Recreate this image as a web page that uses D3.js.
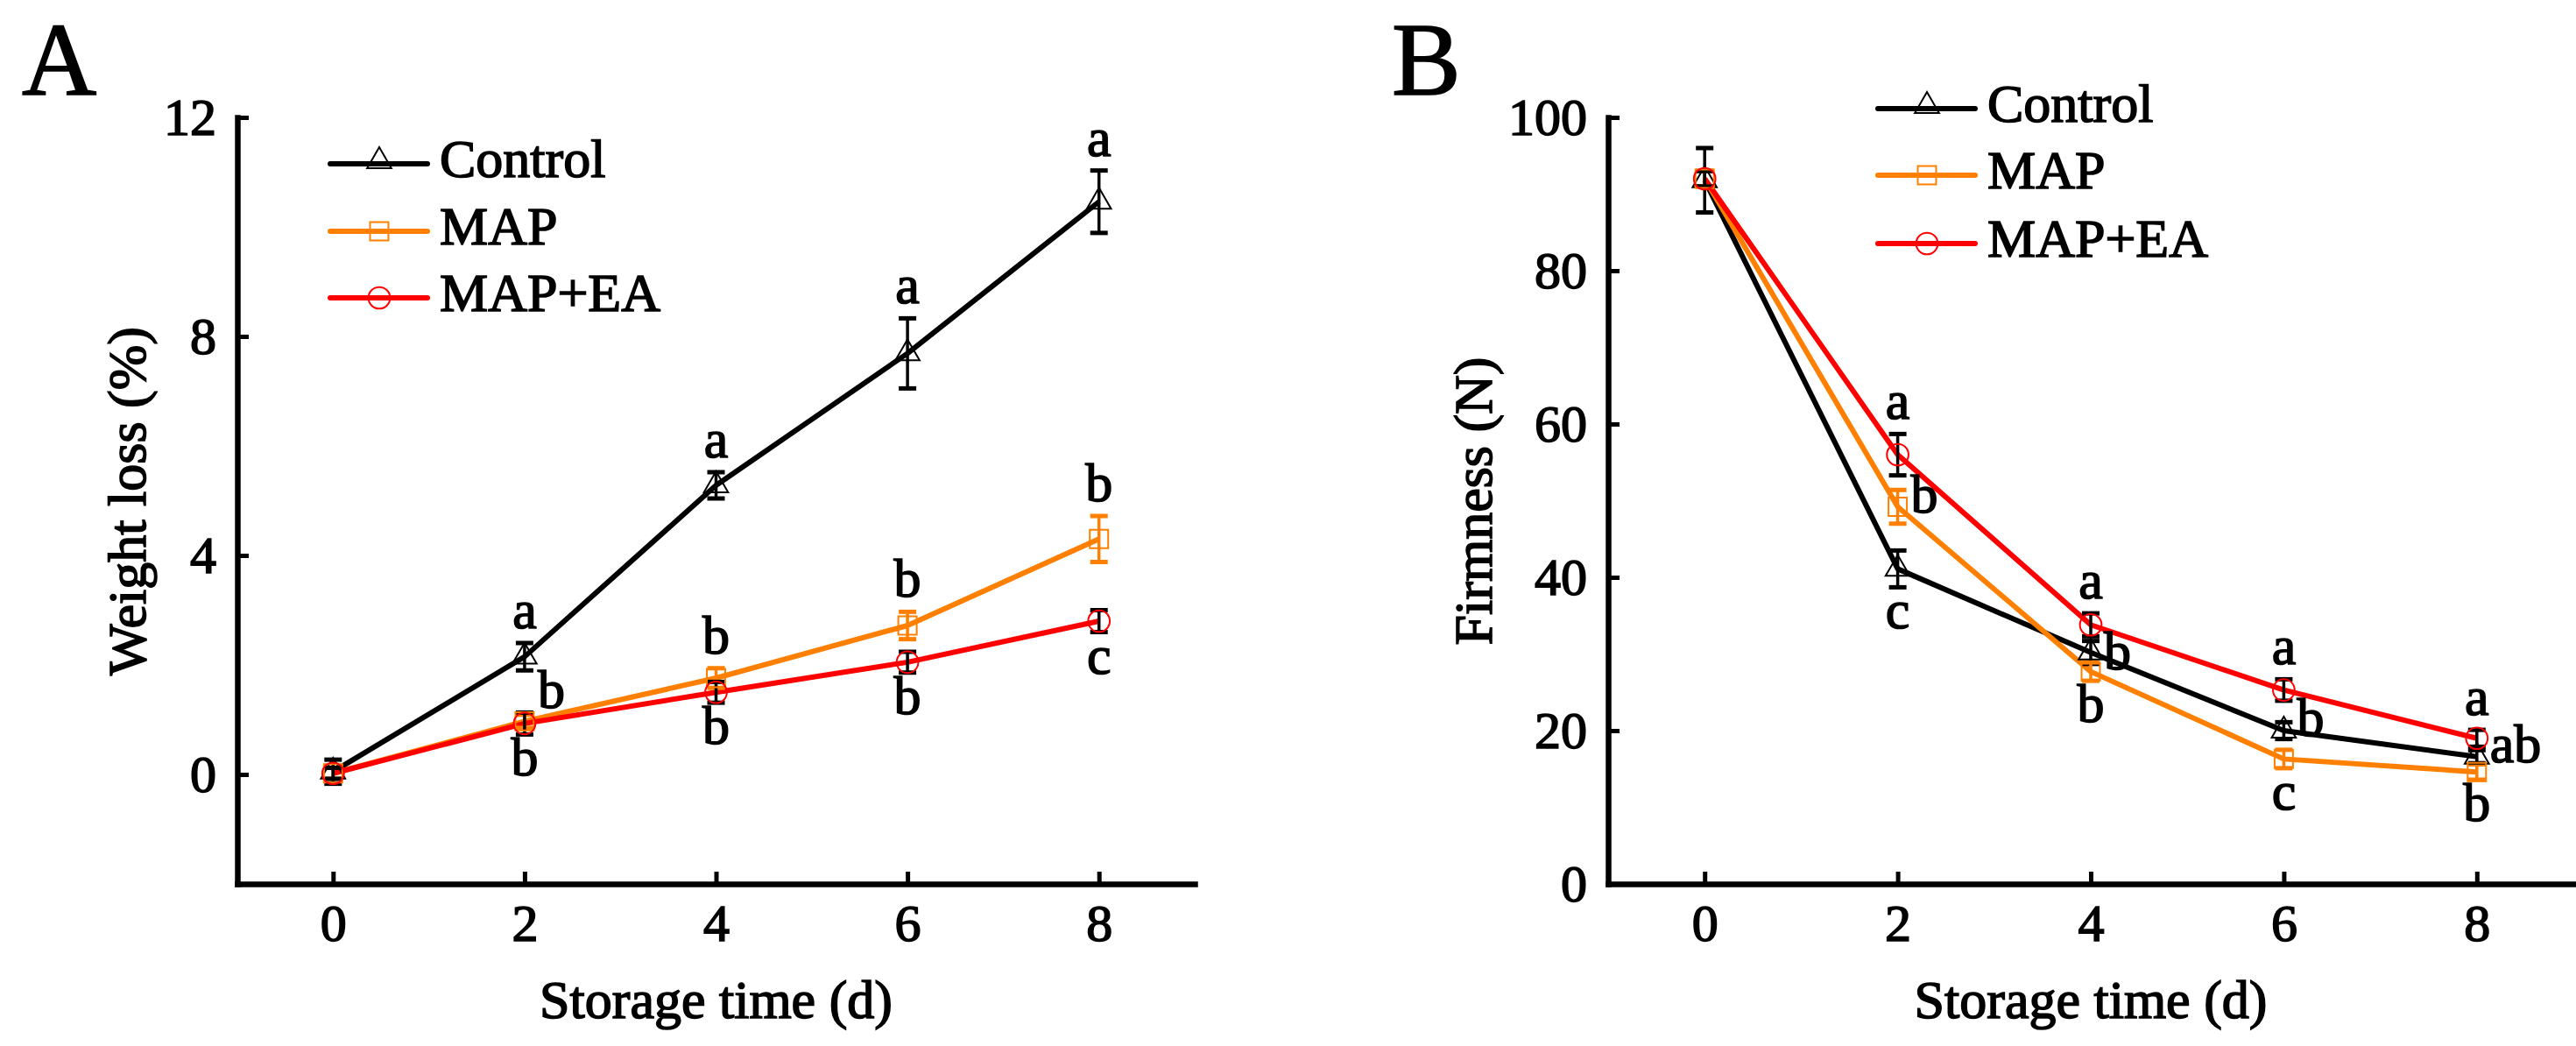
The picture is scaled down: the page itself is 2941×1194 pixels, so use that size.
<!DOCTYPE html>
<html>
<head>
<meta charset="utf-8">
<script src="https://cdn.jsdelivr.net/npm/d3@7"></script>
<style>
  body { margin: 0; background: #fff; }
  svg { display: block; }
  text { font-family: "Liberation Serif", "Times New Roman", serif; fill: #000; stroke: #000; stroke-width: 1.6px; }
  .axis .domain { stroke: #000; stroke-width: 6.5; stroke-linecap: square; }
  .axis .tick line { stroke: #000; stroke-width: 5; }
  .axis .tick text { font-size: 60px; }
</style>
</head>
<body>
<svg id="chart"></svg>
<script>
// ---- data ----
let days = [0, 2, 4, 6, 8]
let seriesNames = ['Control', 'MAP', 'MAP+EA']

let xTicks = [0, 2, 4, 6, 8]
let weightTicks = [0, 4, 8, 12]
let firmTicks = [0, 20, 40, 60, 80, 100]

// A: weight loss (%)
let weightControl = [0.05, 2.15, 5.28, 7.69, 10.46]
let weightControlSd = [0.22, 0.25, 0.24, 0.64, 0.57]
let weightMap = [0.02, 0.97, 1.76, 2.72, 4.3]
let weightMapSd = [0.1, 0.12, 0.18, 0.25, 0.42]
let weightMapEa = [0.02, 0.93, 1.5, 2.05, 2.8]
let weightMapEaSd = [0.1, 0.2, 0.19, 0.19, 0.2]

let weightLetterControl = ['', 'a', 'a', 'a', 'a']
let weightLetterMap = ['', 'b', 'b', 'b', 'b']
let weightLetterMapEa = ['', 'b', 'b', 'b', 'c']

// B: firmness (N)
let firmControl = [91.8, 41.1, 30.2, 20.0, 16.6]
let firmControlSd = [4.2, 2.4, 1.5, 1.1, 0.85]
let firmMap = [92.0, 49.2, 27.7, 16.3, 14.6]
let firmMapSd = [1.0, 2.2, 1.2, 1.2, 1.0]
let firmMapEa = [92.0, 56.0, 33.8, 25.3, 19.0]
let firmMapEaSd = [1.0, 2.7, 1.5, 1.4, 1.1]

let firmLetterControl = ['', 'c', 'b', 'b', 'ab']
let firmLetterMap = ['', 'b', 'b', 'c', 'b']
let firmLetterMapEa = ['', 'a', 'a', 'a', 'a']

// ---- look ----
let colors = { 'Control': '#000000', 'MAP': '#ff8000', 'MAP+EA': '#ff0000' }
let barColors = { 'Control': '#000000', 'MAP': '#ff8000', 'MAP+EA': '#000000' }
let symbols = { 'Control': d3.symbolTriangle, 'MAP': d3.symbolSquare, 'MAP+EA': d3.symbolCircle }
let symbolSizes = { 'Control': 330, 'MAP': 440, 'MAP+EA': 480 }

let width = 2941
let height = 1194

let svg = d3.select('#chart')
  .attr('width', width)
  .attr('height', height)
  .attr('viewBox', [0, 0, width, height])

// vertical offset of a letter placed to the right of its point
let rightShift = { 'right': 6, 'upright': -15, 'downright': 19 }

let drawPanel = (cfg) => {
  let g = svg.append('g')

  let x = d3.scaleLinear().domain([-1, 9]).range(cfg.xRange)
  let y = d3.scaleLinear().domain(cfg.yDomain).range([1009, 134])

  // axes, ticks pointing inward
  g.append('g')
    .attr('class', 'axis')
    .attr('transform', 'translate(0,' + y.range()[0] + ')')
    .call(d3.axisBottom(x).tickValues(xTicks).tickSizeInner(-14).tickSizeOuter(0).tickPadding(22))

  g.append('g')
    .attr('class', 'axis')
    .attr('transform', 'translate(' + x.range()[0] + ',0)')
    .call(d3.axisLeft(y).tickValues(cfg.yTicks).tickSizeInner(-13).tickSizeOuter(0).tickPadding(24))

  // axis titles
  let xMid = (x.range()[0] + x.range()[1]) / 2
  g.append('text')
    .attr('x', xMid)
    .attr('y', 1162)
    .attr('text-anchor', 'middle')
    .style('font-size', '62px')
    .text('Storage time (d)')

  g.append('text')
    .attr('transform', 'translate(' + cfg.yTitleX + ',' + 572 + ') rotate(-90)')
    .attr('text-anchor', 'middle')
    .style('font-size', '62px')
    .text(cfg.yTitle)

  // panel letter
  g.append('text')
    .attr('x', cfg.panelX)
    .attr('y', 108)
    .style('font-size', '118px')
    .text(cfg.panel)

  let line = d3.line()
    .x((d) => x(d.day))
    .y((d) => y(d.value))

  let rows = cfg.series.map((s) => {
    return {
      name: s.name,
      points: days.map((day, i) => {
        return { day: day, value: s.values[i], sd: s.sd[i], letter: s.letters[i], place: s.place[i] }
      })
    }
  })

  // lines
  rows.forEach((r) => {
    g.append('path')
      .datum(r.points)
      .attr('fill', 'none')
      .attr('stroke', colors[r.name])
      .attr('stroke-width', 6)
      .attr('stroke-linejoin', 'round')
      .attr('d', line)
  })

  // error bars
  rows.forEach((r) => {
    let bars = g.append('g')
      .attr('stroke', barColors[r.name])
    bars.selectAll('line.stem')
      .data(r.points)
      .enter()
      .append('line')
      .attr('x1', (d) => x(d.day))
      .attr('x2', (d) => x(d.day))
      .attr('y1', (d) => y(d.value - d.sd))
      .attr('y2', (d) => y(d.value + d.sd))
      .attr('stroke-width', 3.5)
    bars.selectAll('line.capTop')
      .data(r.points)
      .enter()
      .append('line')
      .attr('x1', (d) => x(d.day) - 10)
      .attr('x2', (d) => x(d.day) + 10)
      .attr('y1', (d) => y(d.value + d.sd))
      .attr('y2', (d) => y(d.value + d.sd))
      .attr('stroke-width', 5)
    bars.selectAll('line.capBottom')
      .data(r.points)
      .enter()
      .append('line')
      .attr('x1', (d) => x(d.day) - 10)
      .attr('x2', (d) => x(d.day) + 10)
      .attr('y1', (d) => y(d.value - d.sd))
      .attr('y2', (d) => y(d.value - d.sd))
      .attr('stroke-width', 5)
  })

  // hollow markers
  rows.forEach((r) => {
    g.selectAll(null)
      .data(r.points)
      .enter()
      .append('path')
      .attr('transform', (d) => 'translate(' + x(d.day) + ',' + y(d.value) + ')')
      .attr('d', d3.symbol().type(symbols[r.name]).size(symbolSizes[r.name]))
      .attr('fill', 'none')
      .attr('stroke', colors[r.name])
      .attr('stroke-width', 2)
  })

  // significance letters
  rows.forEach((r) => {
    g.selectAll(null)
      .data(r.points.filter((d) => d.letter !== ''))
      .enter()
      .append('text')
      .style('font-size', '62px')
      .attr('text-anchor', (d) => rightShift[d.place] !== undefined ? 'start' : 'middle')
      .attr('x', (d) => rightShift[d.place] !== undefined ? x(d.day) + 15 : x(d.day))
      .attr('y', (d) => {
        if (d.place === 'above') return y(d.value + d.sd) - 17
        if (d.place === 'below') return y(d.value - d.sd) + 47
        return y(d.value) + rightShift[d.place]
      })
      .text((d) => d.letter)
  })

  // legend
  let legend = g.append('g')
  seriesNames.forEach((name, i) => {
    let ly = cfg.legendY[i]
    let x0 = cfg.legendX
    let x1 = cfg.legendX + 111
    legend.append('line')
      .attr('x1', x0).attr('x2', x1)
      .attr('y1', ly).attr('y2', ly)
      .attr('stroke', colors[name])
      .attr('stroke-width', 6)
      .attr('stroke-linecap', 'round')
    legend.append('path')
      .attr('transform', 'translate(' + (x0 + 56) + ',' + (i === 0 ? ly - 3 : ly) + ')')
      .attr('d', d3.symbol().type(symbols[name]).size(symbolSizes[name]))
      .attr('fill', 'none')
      .attr('stroke', colors[name])
      .attr('stroke-width', 2)
    legend.append('text')
      .attr('x', x1 + 14)
      .attr('y', ly + 15)
      .style('font-size', '62px')
      .text(name)
  })
}

let placeAll = (p) => days.map(() => p)

drawPanel({
  panel: 'A',
  panelX: 25,
  xRange: [271, 1364],
  yDomain: [-2, 12],
  yTicks: weightTicks,
  yTitle: 'Weight loss (%)',
  yTitleX: 166,
  legendX: 377,
  legendY: [187, 264, 340],
  series: [
    { name: 'Control', values: weightControl, sd: weightControlSd, letters: weightLetterControl, place: placeAll('above') },
    { name: 'MAP', values: weightMap, sd: weightMapSd, letters: weightLetterMap, place: ['above', 'upright', 'above', 'above', 'above'] },
    { name: 'MAP+EA', values: weightMapEa, sd: weightMapEaSd, letters: weightLetterMapEa, place: placeAll('below') }
  ]
})

drawPanel({
  panel: 'B',
  panelX: 1589,
  xRange: [1836, 2938],
  yDomain: [0, 100],
  yTicks: firmTicks,
  yTitle: 'Firmness (N)',
  yTitleX: 1703,
  legendX: 2144,
  legendY: [124, 200, 278],
  series: [
    { name: 'Control', values: firmControl, sd: firmControlSd, letters: firmLetterControl, place: ['right', 'below', 'downright', 'right', 'right'] },
    { name: 'MAP', values: firmMap, sd: firmMapSd, letters: firmLetterMap, place: ['below', 'right', 'below', 'below', 'below'] },
    { name: 'MAP+EA', values: firmMapEa, sd: firmMapEaSd, letters: firmLetterMapEa, place: placeAll('above') }
  ]
})
</script>
</body>
</html>
